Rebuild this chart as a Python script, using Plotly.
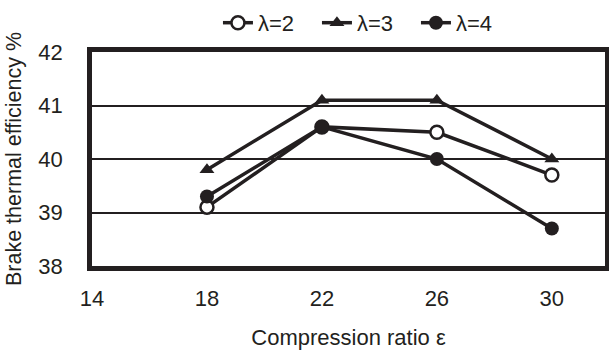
import plotly.graph_objects as go

x_vals = [18, 22, 26, 30]
lam2 = [39.1, 40.6, 40.5, 39.7]
lam3 = [39.8, 41.1, 41.1, 40.0]
lam4 = [39.3, 40.6, 40.0, 38.7]
names = ["λ=2", "λ=3", "λ=4"]
x_ticks = [14, 18, 22, 26, 30]
y_ticks = [38, 39, 40, 41, 42]

fig = go.Figure()
fig.add_trace(go.Scatter(x=x_vals, y=lam2, name=names[0], mode="lines+markers",
                         line=dict(color="#231f20", width=3.5),
                         marker=dict(symbol="circle", size=13, color="white",
                                     line=dict(color="#231f20", width=2.5))))
fig.add_trace(go.Scatter(x=x_vals, y=lam3, name=names[1], mode="lines+markers",
                         line=dict(color="#231f20", width=3.5),
                         marker=dict(symbol="triangle-up", size=13, color="#231f20")))
fig.add_trace(go.Scatter(x=x_vals, y=lam4, name=names[2], mode="lines+markers",
                         line=dict(color="#231f20", width=3.5),
                         marker=dict(symbol="circle", size=14, color="#231f20")))

fam = "Liberation Sans, Arial, sans-serif"
fig.update_layout(
    width=609, height=352,
    margin=dict(l=92, r=4, t=52, b=86, autoexpand=False),
    paper_bgcolor="white", plot_bgcolor="white",
    font=dict(family=fam, size=22, color="#231f20"),
    legend=dict(orientation="h", x=0.535, xanchor="center", y=1.136, yanchor="middle",
                font=dict(family=fam, size=22, color="#231f20"),
                entrywidth=54, entrywidthmode="pixels",
                tracegroupgap=0),
    xaxis=dict(range=[14, 31.85], tickvals=x_ticks, showgrid=False, zeroline=False,
               showline=True, linecolor="#231f20", linewidth=4.5, mirror=True,
               ticks="", ticklabelstandoff=9, automargin=False,
               title=dict(text="Compression ratio ε", standoff=21, font=dict(size=22))),
    yaxis=dict(range=[38, 42], tickvals=y_ticks, showgrid=True, gridcolor="#231f20",
               gridwidth=2, zeroline=False,
               showline=True, linecolor="#231f20", linewidth=4.5, mirror=True,
               ticks="", ticklabelstandoff=20, automargin=False,
               title=dict(text="Brake thermal efficiency %", standoff=12, font=dict(size=21.5))),
)
fig.write_html("out.html")
